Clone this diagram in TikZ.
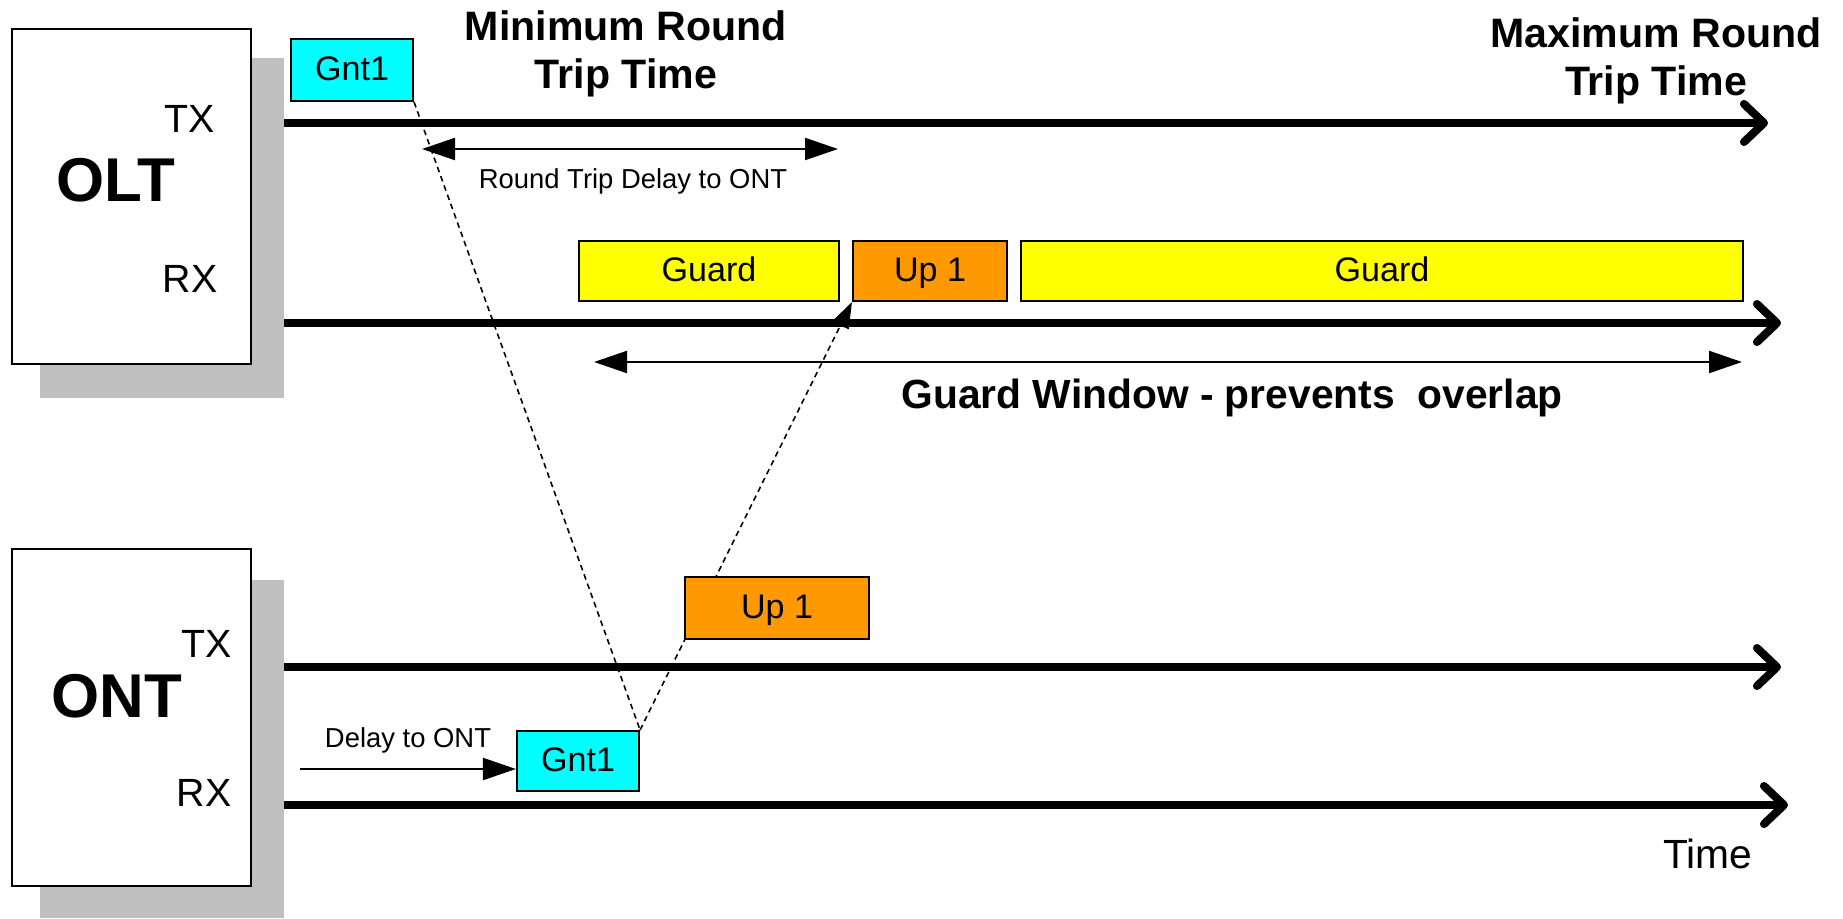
\documentclass[tikz,border=0pt]{standalone}
\usepackage{fontspec}
\setmainfont{Liberation Sans}
\usepackage{tikz}
\usetikzlibrary{arrows.meta}
\definecolor{gntcyan}{HTML}{00FFFF}
\definecolor{guardyellow}{HTML}{FFFF00}
\definecolor{uporange}{HTML}{FF9900}
\definecolor{shadowgray}{HTML}{C0C0C0}
\tikzstyle{timeline} = [line width=2.3pt,-{Straight Barb[length=2mm,width=3.8mm,round]}]
\tikzstyle{span} = [line width=0.6pt,{Triangle[length=3.3mm,width=2.2mm]}-{Triangle[length=3.3mm,width=2.2mm]}]
\tikzstyle{push} = [line width=0.6pt,-{Triangle[length=3.3mm,width=2.2mm]}]
\tikzstyle{trail} = [line width=0.45pt,dash pattern=on 1.6pt off 1.2pt]
\tikzstyle{slot} = [draw,line width=0.6pt,minimum height=0.6cm,inner sep=0,text height=7pt,text depth=1pt,font=\fontsize{9.7}{11}\selectfont]
\tikzstyle{unit} = [draw,fill=white,line width=0.7pt,inner sep=0]
\tikzstyle{heading} = [inner sep=0,font=\fontsize{11.7}{13.8}\selectfont\bfseries]
\tikzstyle{bigname} = [inner sep=0,font=\fontsize{17.6}{20}\selectfont\bfseries]
\tikzstyle{port} = [inner sep=0,font=\fontsize{11.2}{13}\selectfont]
\tikzstyle{note} = [inner sep=0,font=\fontsize{7.8}{9}\selectfont]

\begin{document}
\begin{tikzpicture}[x=1cm,y=-1cm]
\useasboundingbox (0,0) rectangle (18.43,9.18);

% shelves behind the two units
\fill[shadowgray] (0.40,0.58) rectangle (2.84,3.98);
\fill[shadowgray] (0.40,5.80) rectangle (2.84,9.18);
\node[unit,minimum width=2.39cm,minimum height=3.35cm] (olt) at (1.315,1.965) {};
\node[unit,minimum width=2.39cm,minimum height=3.37cm] (ont) at (1.315,7.175) {};
\node[bigname,anchor=base] (olt-name) at (1.16,2.01) {OLT};
\node[bigname,anchor=base] (ont-name) at (1.165,7.17) {ONT};
\node[port,anchor=base east] (olt-tx) at (2.15,1.32) {TX};
\node[port,anchor=base east] (olt-rx) at (2.18,2.92) {RX};
\node[port,anchor=base east] (ont-tx) at (2.32,6.57) {TX};
\node[port,anchor=base east] (ont-rx) at (2.32,8.06) {RX};

% time axes
\foreach \name/\y/\xend in {olttx/1.23/17.68, oltrx/3.23/17.81, onttx/6.67/17.81, ontrx/8.05/17.88}{
  \coordinate (\name-s) at (2.84,\y);
  \coordinate (\name-e) at (\xend,\y);
  \draw[timeline] (\name-s) -- (\name-e);
}
\node[port,anchor=base,font=\fontsize{11.6}{13}\selectfont] (time) at (17.08,8.68) {Time};

% headings
\node[heading,align=center] (minrtt) at (6.26,0.54) {Minimum Round\\Trip Time};
\node[heading,align=center] (maxrtt) at (16.56,0.61) {Maximum Round\\Trip Time};

% bursts
\node[slot,fill=gntcyan,minimum width=1.22cm,minimum height=0.62cm] (gntA) at (3.52,0.70) {Gnt1};
\node[slot,fill=guardyellow,minimum width=2.60cm] (guardA) at (7.09,2.71) {Guard};
\node[slot,fill=uporange,minimum width=1.54cm] (upA) at (9.30,2.71) {Up 1};
\node[slot,fill=guardyellow,minimum width=7.22cm] (guardB) at (13.82,2.71) {Guard};
\node[slot,fill=gntcyan,minimum width=1.22cm] (gntB) at (5.78,7.61) {Gnt1};

% grant goes down, burst comes back up
\draw[trail] (gntA.south east) -- (gntB.north east);
\draw[trail,-{Triangle[length=2.6mm,width=1.8mm]}] (gntB.north east) -- (upA.south west);
\node[slot,fill=uporange,minimum width=1.84cm,minimum height=0.62cm] (upB) at (7.77,6.08) {Up 1};

% delays
\coordinate (rtd-l) at (4.22,1.49);
\coordinate (rtd-r) at (8.38,1.49);
\draw[span] (rtd-l) -- (rtd-r);
\node[note,anchor=base] (rtd-lbl) at (6.33,1.88) {Round Trip Delay to ONT};

\coordinate (gw-l) at (5.94,3.62);
\coordinate (gw-r) at (17.42,3.62);
\draw[span] (gw-l) -- (gw-r);
\node[heading,anchor=base,font=\fontsize{11.6}{13}\selectfont\bfseries] (gw-lbl) at (12.32,4.08) {Guard Window - prevents\ \ overlap};

\coordinate (dly) at (3.00,7.69);
\draw[push] (dly) -- (dly -| gntB.west);
\node[note,anchor=base] (dly-lbl) at (4.08,7.47) {Delay to ONT};
\end{tikzpicture}
\end{document}
